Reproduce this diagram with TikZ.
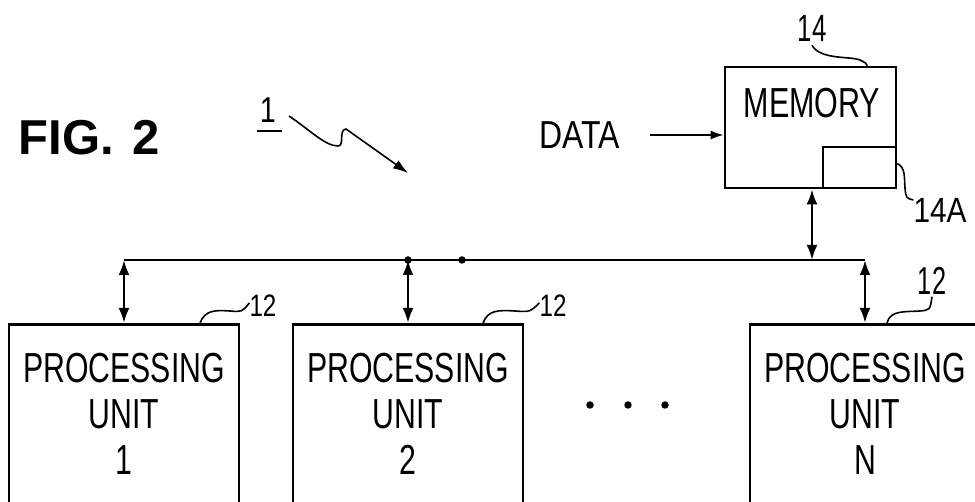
\documentclass[tikz,border=0pt]{standalone}
\usepackage{fontspec}
\setmainfont{Liberation Sans}
\usepackage{graphicx}
\usetikzlibrary{arrows.meta}
\newcommand{\narrowtxt}[2][0.72]{\scalebox{#1}[1]{#2}}
\begin{document}
\begin{tikzpicture}[x=1pt,y=-1pt,
 box/.style={draw,line width=2.6pt,rectangle,inner sep=0pt},
 bi/.style={line width=2.6pt,{Latex[length=15pt,width=11pt]}-{Latex[length=15pt,width=11pt]}},
 lead/.style={line width=1.6pt},
 big/.style={font=\fontsize{42}{46}\selectfont,align=center,inner sep=0pt},
 num/.style={inner sep=0pt},
 jdot/.style={circle,fill,inner sep=0pt,minimum size=7.5pt}]
\clip (0,0) rectangle (975,502);
\fill[white] (0,0) rectangle (975,502);

% title
\node[font=\bfseries\fontsize{49}{50}\selectfont,inner sep=0pt] (fig) at (89,138) {FIG.\hspace{18pt}2};

% reference 1
\node[num,font=\fontsize{36}{40}\selectfont] (one) at (268,110) {\narrowtxt[0.8]{1}};
\draw[line width=2.2pt] (257,131) -- (282,131);
\coordinate (sqend) at (408,173);
\draw[lead,-{Latex[length=15pt,width=10pt]}] (289,116) .. controls (310,130) and (325,146) .. (338,146) .. controls (345,146) and (338,130) .. (346,129) -- (sqend);

% memory
\node[box,minimum width=171pt,minimum height=121pt] (mem) at (810.5,127.5) {};
\node[box,minimum width=73pt,minimum height=41pt] (memA) at (859.5,167.5) {};
\node[big,inner sep=0pt] (memt) at (812,103) {\narrowtxt[0.725]{MEMORY}};
\node[num,font=\fontsize{38}{40}\selectfont] (l14) at (812,28) {\narrowtxt[0.68]{14}};
\draw[lead] ([yshift=-4pt]l14.south) .. controls (820,60) and (850,56) .. (860,60) .. controls (866,63) .. ([xshift=-30pt]mem.north east);
\node[num,font=\fontsize{35}{38}\selectfont] (l14a) at (940,210) {\narrowtxt[0.85]{14A}};
\draw[lead] ([yshift=4pt]memA.east) .. controls (906,168) and (904,178) .. (905,188) .. controls (906,198) .. ([yshift=10pt]l14a.west);

% data
\node[num,font=\fontsize{39}{40}\selectfont] (data) at (580,135) {\narrowtxt[0.82]{DATA}};
\draw[line width=1.8pt,-{Latex[length=13pt,width=9pt]}] ([xshift=30pt]data.east) -- (data.east -| mem.west);

% processing units
\node[box,minimum width=230pt,minimum height=240pt,anchor=north] (pu1) at (124,323) {};
\node[box,minimum width=230pt,minimum height=240pt,anchor=north] (pu2) at (408,323) {};
\node[box,minimum width=230pt,minimum height=240pt,anchor=north] (pun) at (865,323) {};
\node[big] (t1) at (124,414) {\narrowtxt{PROCESSING}\\\narrowtxt{UNIT}\\\narrowtxt{1}};
\node[big] (t2) at (408,414) {\narrowtxt{PROCESSING}\\\narrowtxt{UNIT}\\\narrowtxt{2}};
\node[big] (tn) at (865,414) {\narrowtxt{PROCESSING}\\\narrowtxt{UNIT}\\\narrowtxt{N}};

% bus
\coordinate (busL) at (124,260);
\coordinate (busR) at (865,260);
\draw[line width=2.4pt] (busL) -- (busR);
\node[jdot] (j1) at (408,260) {};
\node[jdot] (j2) at (462,260) {};
\draw[bi] (pu1.north) -- (pu1.north |- busL);
\draw[bi] (pu2.north) -- (pu2.north |- busL);
\draw[bi] (pun.north) -- (pun.north |- busL);
\draw[bi] (mem.south -| memt) -- (memt |- busL);

% labels 12
\node[num,font=\fontsize{31}{34}\selectfont] (l121) at (263,306) {\narrowtxt[0.78]{12}};
\node[num,font=\fontsize{31}{34}\selectfont] (l122) at (553,306) {\narrowtxt[0.78]{12}};
\node[num,font=\fontsize{39}{40}\selectfont] (l12n) at (932,281) {\narrowtxt[0.65]{12}};
\draw[lead] ([xshift=76pt]pu1.north) .. controls (205,310) and (215,310) .. (230,311) .. controls (242,312) .. ([yshift=3pt]l121.west);
\draw[lead] ([xshift=75pt]pu2.north) .. controls (488,310) and (498,310) .. (515,311) .. controls (530,312) .. ([yshift=3pt]l122.west);
\draw[lead] ([xshift=22pt]pun.north) .. controls (890,310) and (905,312) .. (920,311) .. controls (930,310) .. ([yshift=-2pt]l12n.south);

% ellipsis dots
\node[jdot] (d1) at (590,405) {};
\node[jdot] (d2) at (628,405) {};
\node[jdot] (d3) at (665,405) {};
\end{tikzpicture}
\end{document}
